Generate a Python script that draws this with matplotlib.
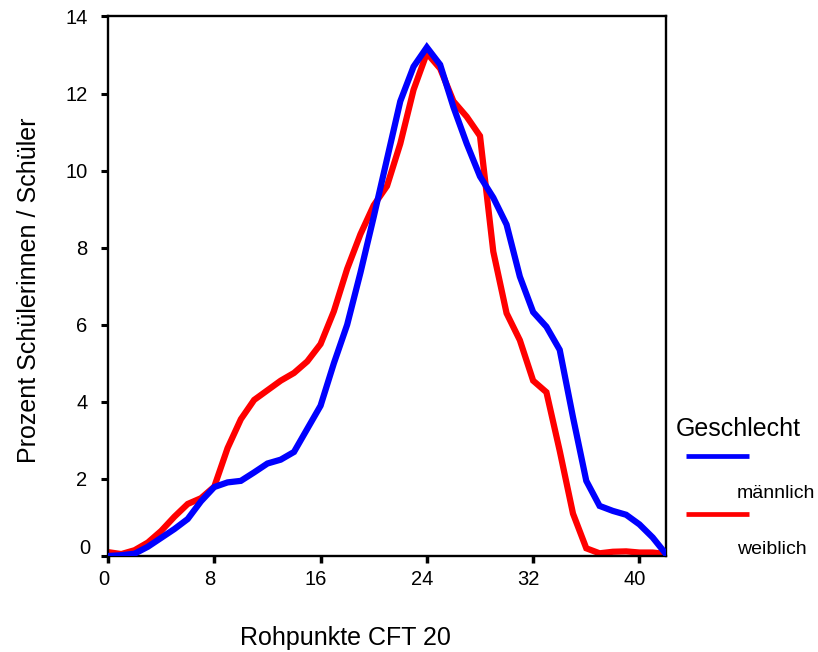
import matplotlib
matplotlib.use("Agg")
import matplotlib.pyplot as plt
from matplotlib.lines import Line2D
from matplotlib.transforms import ScaledTranslation

plt.rcParams['font.family'] = ['Liberation Sans', 'DejaVu Sans']

# ---- data (percent of pupils per raw score) ----
scores = list(range(0, 43))
maennlich = [0.0, 0.02, 0.06, 0.24, 0.47, 0.70, 0.96, 1.42, 1.79, 1.91,
             1.95, 2.17, 2.40, 2.50, 2.70, 3.30, 3.90, 5.00, 6.00, 7.35,
             8.80, 10.30, 11.80, 12.70, 13.20, 12.75, 11.65, 10.70, 9.85, 9.30,
             8.60, 7.25, 6.33, 5.95, 5.35, 3.60, 1.95, 1.30, 1.17, 1.07,
             0.82, 0.48, 0.05]
weiblich = [0.10, 0.05, 0.15, 0.35, 0.65, 1.02, 1.35, 1.50, 1.80, 2.80,
            3.55, 4.05, 4.30, 4.55, 4.75, 5.05, 5.50, 6.35, 7.45, 8.35,
            9.10, 9.60, 10.70, 12.10, 13.05, 12.65, 11.80, 11.40, 10.90, 7.90,
            6.30, 5.60, 4.55, 4.25, 2.73, 1.10, 0.20, 0.07, 0.11, 0.12,
            0.09, 0.09, 0.05]
x_ticks = [0, 8, 16, 24, 32, 40]
y_ticks = [0, 2, 4, 6, 8, 10, 12, 14]
legend_title = "Geschlecht"
legend_labels = ["männlich", "weiblich"]
colors = ["#0000ff", "#ff0000"]

W, H = 818, 652
fig = plt.figure(figsize=(W / 100, H / 100), dpi=100)
ax = fig.add_axes([108 / W, 1 - 556 / H, (666 - 108) / W, (556 - 16.5) / H])

ax.plot(scores, weiblich, color=colors[1], lw=4.5, solid_joinstyle='miter', zorder=2)
ax.plot(scores, maennlich, color=colors[0], lw=4.5, solid_joinstyle='miter', zorder=3)

ax.set_xlim(0, 42)
ax.set_ylim(0, 14)
ax.set_xticks(x_ticks)
ax.set_yticks(y_ticks)
for s in ax.spines.values():
    s.set_linewidth(1.7)
ax.tick_params(axis='y', direction='out', length=4.8, width=2.2, pad=10.0, labelsize=14.5)
ax.tick_params(axis='x', direction='out', length=5, width=2.5, pad=5.0, labelsize=14.5)

# SPSS-style label placement offsets
for lab in ax.get_xticklabels():
    lab.set_transform(lab.get_transform() + ScaledTranslation(-4.5 / 100, 0, fig.dpi_scale_trans))
ylabs = ax.get_yticklabels()
ylabs[0].set_transform(ylabs[0].get_transform() + ScaledTranslation(3 / 100, 9.5 / 100, fig.dpi_scale_trans))

fig.text(29 / W, 1 - 290.5 / H, "Prozent Schülerinnen / Schüler", rotation=90,
         ha='center', va='center', fontsize=18)
fig.text(345.3 / W, 1 - 645.5 / H, "Rohpunkte CFT 20", ha='center', va='baseline', fontsize=18)

# legend
fig.text(676 / W, 1 - 436 / H, legend_title, ha='left', va='baseline', fontsize=18)
for i, (lab, c) in enumerate(zip(legend_labels, colors)):
    ly = [456.3, 514.0][i]
    ty = [498.3, 554.0][i]
    fig.add_artist(Line2D([686 / W, 749 / W], [1 - ly / H, 1 - ly / H],
                          transform=fig.transFigure, color=c, lw=3.4, solid_capstyle='butt'))
    fig.text(737 / W, 1 - ty / H, lab, ha='left', va='baseline', fontsize=14)

fig.savefig("out.png", dpi=100)
